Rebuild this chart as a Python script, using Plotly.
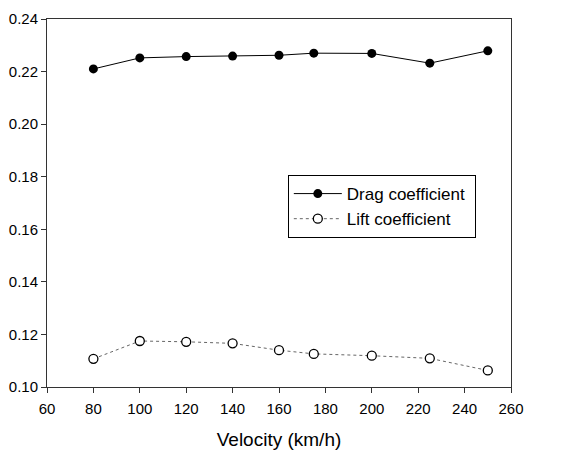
import plotly.graph_objects as go

velocity = [80, 100, 120, 140, 160, 175, 200, 225, 250]
drag = [0.2210, 0.2252, 0.2257, 0.2259, 0.2262, 0.2270, 0.2269, 0.2232, 0.2279]
lift = [0.1107, 0.1175, 0.1172, 0.1166, 0.1140, 0.1126, 0.1119, 0.1109, 0.1063]
names = ["Drag coefficient", "Lift coefficient"]

fig = go.Figure()
fig.add_trace(go.Scatter(
    x=velocity, y=drag, name=names[0] + "\u00a0", mode="lines+markers",
    line=dict(color="black", width=1),
    marker=dict(symbol="circle", size=9, color="black"),
))
fig.add_trace(go.Scatter(
    x=velocity, y=lift, name=names[1], mode="lines+markers",
    line=dict(color="#666666", width=1, dash="dot"),
    marker=dict(symbol="circle", size=9, color="white", line=dict(color="black", width=1.3)),
))

fig.update_layout(
    width=573, height=453,
    margin=dict(l=39, r=70, t=11, b=74, autoexpand=False),
    paper_bgcolor="white", plot_bgcolor="white",
    font=dict(family="Liberation Sans, Arial", size=15, color="black"),
    showlegend=True,
    legend=dict(
        x=0.519, y=0.576, xanchor="left", yanchor="top",
        bordercolor="black", borderwidth=1, bgcolor="white",
        font=dict(size=17), tracegroupgap=0, itemwidth=48,
    ),
)
fig.update_xaxes(
    range=[60, 260], dtick=20, tick0=60,
    showgrid=False, zeroline=False,
    showline=True, linecolor="#333333", linewidth=1, mirror=True,
    ticks="outside", ticklen=5, tickcolor="#333333", ticklabelstandoff=3,
    title=dict(text="Velocity (km/h)", font=dict(size=19), standoff=16),
)
fig.update_yaxes(
    range=[0.10, 0.24], dtick=0.02, tick0=0.10, tickformat=".2f",
    showgrid=False, zeroline=False,
    showline=True, linecolor="#333333", linewidth=1, mirror=True,
    ticks="outside", ticklen=5, tickcolor="#333333",
)

fig.write_html("out.html")
